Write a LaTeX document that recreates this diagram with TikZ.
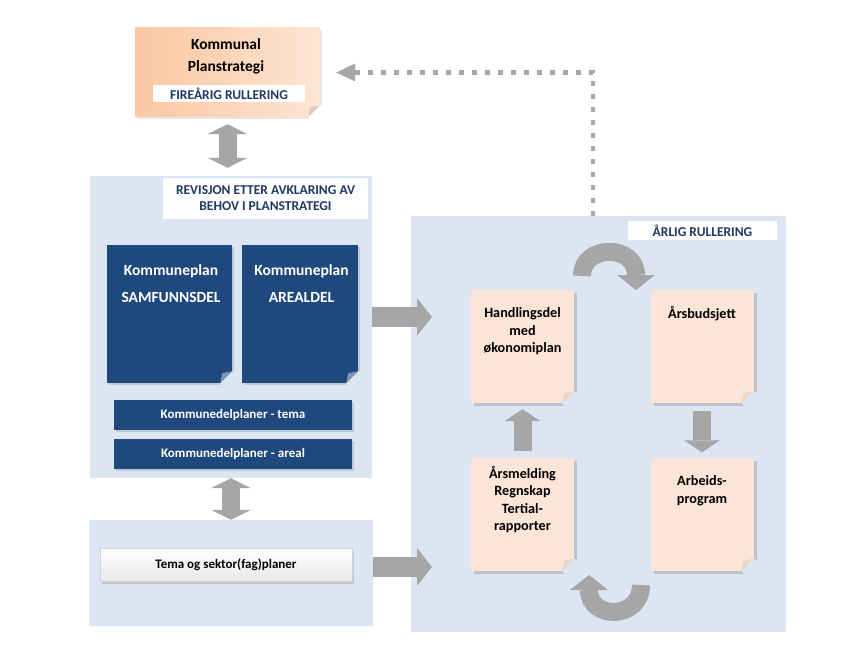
\documentclass[tikz,border=0pt]{standalone}
\usepackage{fontspec}
\setmainfont{Carlito}
\usepackage{xcolor}
\usepackage{tikz}
\usetikzlibrary{shapes,shadows,arrows,calc}
\usetikzlibrary{arrows.meta}

\definecolor{panelBlue}{HTML}{DCE6F2}
\definecolor{planNavy}{HTML}{1F497D}
\definecolor{foldNavy}{HTML}{7F94B4}
\definecolor{tagNavy}{HTML}{1F3864}
\definecolor{docPeach}{HTML}{FBE5D6}
\definecolor{foldPeach}{HTML}{EAD6C6}
\definecolor{arrowGray}{HTML}{A6A6A6}
\definecolor{stratLeft}{HTML}{FAC8A3}
\definecolor{stratRight}{HTML}{FDE6D5}

\tikzset{
    panel/.style={fill=panelBlue, inner sep=0pt},
    tag/.style={fill=white, text=tagNavy, inner sep=0pt, align=center,
                font=\bfseries\fontsize{13.5}{16}\selectfont},
    navydoc/.style={fill=planNavy, inner sep=0pt,
                drop shadow={shadow xshift=2pt, shadow yshift=-2pt, opacity=0.3}},
    navytext/.style={text=white, align=center, inner sep=0pt,
                font=\bfseries\fontsize{15.5}{27}\selectfont},
    navybar/.style={fill=planNavy, text=white, inner sep=0pt,
                minimum width=238pt, minimum height=30pt,
                font=\bfseries\fontsize{13}{15}\selectfont,
                drop shadow={shadow xshift=2pt, shadow yshift=-2pt, opacity=0.3}},
    peachdoc/.style={fill=docPeach, inner sep=0pt,
                minimum width=103pt, minimum height=113pt,
                drop shadow={shadow xshift=3pt, shadow yshift=-3pt, opacity=0.35}},
    doctext/.style={align=center, inner sep=0pt,
                font=\bfseries\fontsize{14.2}{17.5}\selectfont},
    blockarrow/.style={draw=arrowGray, line width=18pt},
    biarrow/.style={blockarrow,
                arrows={Triangle[length=10pt 0 0, width=40pt 0 0, line width=0pt 0 0]-Triangle[length=10pt 0 0, width=40pt 0 0, line width=0pt 0 0]}},
    rarrow/.style={draw=arrowGray, line width=20pt,
                arrows={-Triangle[length=15pt 0 0, width=38pt 0 0, line width=0pt 0 0]}},
    vstep/.style={blockarrow,
                arrows={-Triangle[length=12pt 0 0, width=36pt 0 0, line width=0pt 0 0]}},
    turn/.style={blockarrow,
                arrows={-Triangle[length=15pt 0 0, width=38pt 0 0, line width=0pt 0 0]}},
    feedback/.style={draw=arrowGray, line width=4.5pt, dash pattern=on 4.5pt off 8.5pt,
                arrows={-Triangle[length=19pt 0 0, width=18pt 0 0, line width=0pt 0 0]}}
}

\begin{document}
\begin{tikzpicture}[x=1pt, y=-1pt]
    \useasboundingbox (0,0) rectangle (855,666);

    % folded corner of a sheet
    \newcommand{\dogear}[3]{
        \fill[#2] ([shift={(-12,0)}]#1.south east) -- ++(3,5) -- ++(14,0) -- ++(0,-14) -- ++(-5,-3) -- cycle;
        \fill[#3] ([shift={(-12,0)}]#1.south east) -- ++(12,-12) -- ++(-10,2) -- cycle;
    }

    % Background panels
    \node[panel, minimum width=282pt, minimum height=302pt] (rev) at (231,327) {};
    \node[panel, minimum width=284pt, minimum height=106pt] (tpanel) at (231,573) {};
    \node[panel, minimum width=375pt, minimum height=416pt] (rpanel) at (598.5,424) {};

    % Planstrategi
    \node[inner sep=0pt, minimum width=185pt, minimum height=89pt,
          left color=stratLeft, right color=stratRight, middle color=stratLeft!55!stratRight,
          drop shadow={shadow xshift=2pt, shadow yshift=-2pt, opacity=0.2}] (plan) at (227.5,72.5) {};
    \dogear{plan}{white}{stratRight!75!gray}
    \node[inner sep=0pt, align=center, font=\bfseries\fontsize{15.5}{22}\selectfont] (planTitle) at (226,56) {Kommunal\\Planstrategi};
    \node[tag, minimum width=152pt, minimum height=17pt] (planTag) at (229,94) {FIREÅRIG RULLERING};

    % Tags on the panels
    \node[tag, minimum width=205pt, minimum height=41pt] (revTag) at (265.5,198.5) {REVISJON ETTER AVKLARING AV\\BEHOV I PLANSTRATEGI};
    \node[tag, minimum width=149pt, minimum height=19pt] (yearTag) at (702.5,230.5) {ÅRLIG RULLERING};

    % Kommuneplan
    \node[navydoc, minimum width=125pt, minimum height=138pt] (samf) at (169.5,314) {};
    \node[navydoc, minimum width=116pt, minimum height=138pt] (areal) at (300,314) {};
    \dogear{samf}{panelBlue}{foldNavy}
    \dogear{areal}{panelBlue}{foldNavy}
    \node[navytext] (samfTxt) at (171,283.5) {Kommuneplan\\SAMFUNNSDEL};
    \node[navytext] (arealTxt) at (301.5,283.5) {Kommuneplan\\AREALDEL};

    \node[navybar] (temaBar) at (233,415) {Kommunedelplaner - tema};
    \node[navybar] (arealBar) at (233,454) {Kommunedelplaner - areal};

    % Tema og sektor
    \node[inner sep=0pt, minimum width=252pt, minimum height=33pt,
          top color=white, bottom color=gray!18, draw=gray!35, line width=0.4pt,
          font=\bfseries\fontsize{13}{15}\selectfont,
          drop shadow={shadow xshift=2pt, shadow yshift=-2pt, opacity=0.3}] (sektorBar) at (226,565) {Tema og sektor(fag)planer};

    % Yearly cycle
    \node[peachdoc] (hand) at (522.5,346.5) {};
    \node[peachdoc] (budsj) at (702,346.5) {};
    \node[peachdoc] (mld) at (522.5,514) {};
    \node[peachdoc] (arb) at (702,514) {};
    \foreach \d in {hand,budsj,mld,arb} {
        \dogear{\d}{panelBlue}{foldPeach}
    }
    \node[doctext] (handTxt) at (522.5,331.5) {Handlingsdel\\med\\økonomiplan};
    \node[doctext] (budsjTxt) at (702,314) {Årsbudsjett};
    \node[doctext] (mldTxt) at (522.5,499.5) {Årsmelding\\Regnskap\\Tertial-\\rapporter};
    \node[doctext] (arbTxt) at (702,490.5) {Arbeids-\\program};

    % Arrows
    \draw[biarrow, shorten <=7pt, shorten >=8pt] (plan.south) -- (plan.south |- rev.north);
    \draw[biarrow] (rev.south) -- (rev.south |- tpanel.north);

    \coordinate (revOut) at (432,317);
    \coordinate (sekOut) at (432,567);
    \draw[rarrow] (rev.east |- revOut) -- (revOut);
    \draw[rarrow] (tpanel.east |- sekOut) -- (sekOut);

    \draw[vstep, shorten <=6pt, shorten >=6pt] (mld.north) -- (hand.south);
    \draw[vstep, shorten <=8pt, shorten >=5pt] (budsj.south) -- (arb.north);

    \draw[turn] (582,276) .. controls (582,244) and (636,244) .. (636,290);
    \draw[turn] (641,585) .. controls (641,620) and (589,620) .. (589,575);

    % back to the strategy
    \coordinate (fbStart) at (593,216);
    \draw[feedback, shorten >=16pt] (fbStart) |- (plan.east);

\end{tikzpicture}
\end{document}
